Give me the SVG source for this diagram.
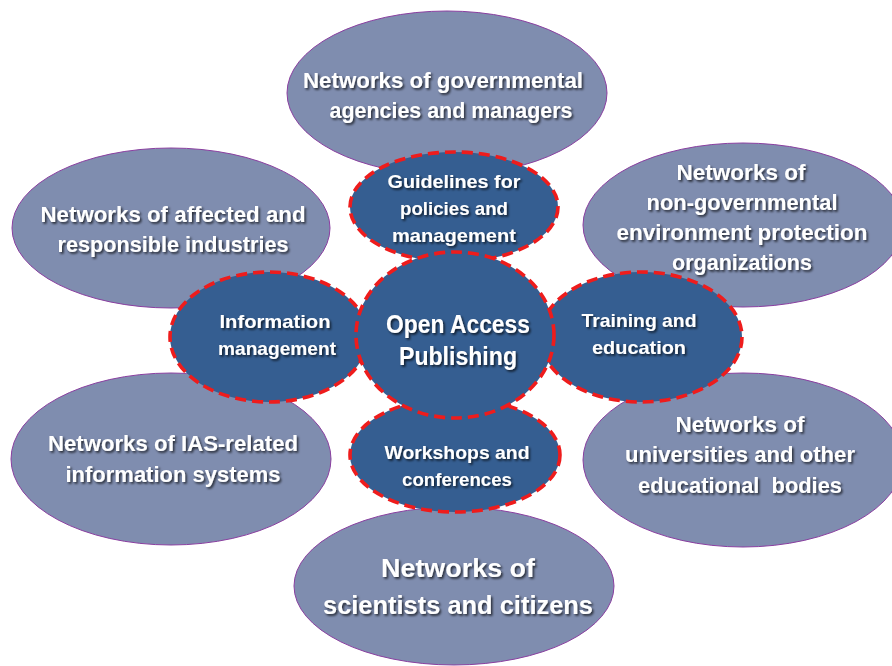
<svg xmlns="http://www.w3.org/2000/svg" width="892" height="666" viewBox="0 0 892 666">
<defs>
<filter id="sh" x="-10%" y="-30%" width="120%" height="160%">
<feDropShadow dx="1.6" dy="1.8" stdDeviation="0.9" flood-color="#000" flood-opacity="0.7"/>
</filter>
</defs>
<style>
.outer{fill:#7f8daf;stroke:#8a3fa0;stroke-width:1}
.inner{fill:#355e91;stroke:#ee1c1c;stroke-width:3.6;stroke-dasharray:11 6}
text{font-family:"Liberation Sans",Arial,sans-serif;font-weight:bold;fill:#fff;text-anchor:middle;filter:url(#sh)}
.o{font-size:22px}
.b{font-size:26px}
.i{font-size:19px}
.c{font-size:25px}
</style>
<rect width="892" height="666" fill="#fff"/>
<g id="n-gov">
<ellipse class="outer" cx="447" cy="93" rx="160" ry="82"/>
<text class="o" x="443" y="88" textLength="280" lengthAdjust="spacingAndGlyphs">Networks of governmental</text>
<text class="o" x="451" y="118" textLength="243" lengthAdjust="spacingAndGlyphs">agencies and managers</text>
</g>
<g id="n-ind">
<ellipse class="outer" cx="171" cy="228" rx="159" ry="80"/>
<text class="o" x="173" y="222" textLength="265" lengthAdjust="spacingAndGlyphs">Networks of affected and</text>
<text class="o" x="173" y="252" textLength="231" lengthAdjust="spacingAndGlyphs">responsible industries</text>
</g>
<g id="n-ngo">
<ellipse class="outer" cx="743" cy="225" rx="160" ry="82"/>
<text class="o" x="741" y="180" textLength="129" lengthAdjust="spacingAndGlyphs">Networks of</text>
<text class="o" x="742" y="210" textLength="191" lengthAdjust="spacingAndGlyphs">non-governmental</text>
<text class="o" x="742" y="240" textLength="251" lengthAdjust="spacingAndGlyphs">environment protection</text>
<text class="o" x="742" y="270" textLength="140" lengthAdjust="spacingAndGlyphs">organizations</text>
</g>
<g id="n-ias">
<ellipse class="outer" cx="171" cy="459" rx="160" ry="86"/>
<text class="o" x="173" y="451" textLength="250" lengthAdjust="spacingAndGlyphs">Networks of IAS-related</text>
<text class="o" x="173" y="482" textLength="215" lengthAdjust="spacingAndGlyphs">information systems</text>
</g>
<g id="n-uni">
<ellipse class="outer" cx="743" cy="460" rx="160" ry="87"/>
<text class="o" x="740" y="432" textLength="129" lengthAdjust="spacingAndGlyphs">Networks of</text>
<text class="o" x="740" y="462" textLength="230" lengthAdjust="spacingAndGlyphs">universities and other</text>
<text class="o" x="740" y="493" textLength="204" lengthAdjust="spacingAndGlyphs" xml:space="preserve">educational  bodies</text>
</g>
<g id="n-sci">
<ellipse class="outer" cx="454" cy="586" rx="160" ry="79"/>
<text class="b" x="458" y="577" textLength="154" lengthAdjust="spacingAndGlyphs">Networks of</text>
<text class="b" x="458" y="614" textLength="270" lengthAdjust="spacingAndGlyphs">scientists and citizens</text>
</g>
<g id="guidelines">
<ellipse class="inner" cx="454" cy="207" rx="104" ry="55"/>
<text class="i" x="454" y="188" textLength="133" lengthAdjust="spacingAndGlyphs">Guidelines for</text>
<text class="i" x="454" y="215" textLength="108" lengthAdjust="spacingAndGlyphs">policies and</text>
<text class="i" x="454" y="242" textLength="124" lengthAdjust="spacingAndGlyphs">management</text>
</g>
<g id="workshops">
<ellipse class="inner" cx="455" cy="455" rx="105" ry="57"/>
<text class="i" x="457" y="459" textLength="145" lengthAdjust="spacingAndGlyphs">Workshops and</text>
<text class="i" x="457" y="486" textLength="110" lengthAdjust="spacingAndGlyphs">conferences</text>
</g>
<g id="info">
<ellipse class="inner" cx="269" cy="337" rx="99" ry="65"/>
<text class="i" x="275" y="328" textLength="111" lengthAdjust="spacingAndGlyphs">Information</text>
<text class="i" x="277" y="355" textLength="118" lengthAdjust="spacingAndGlyphs">management</text>
</g>
<g id="training">
<ellipse class="inner" cx="641" cy="337" rx="101" ry="65"/>
<text class="i" x="639" y="327" textLength="115" lengthAdjust="spacingAndGlyphs">Training and</text>
<text class="i" x="639" y="354" textLength="94" lengthAdjust="spacingAndGlyphs">education</text>
</g>
<g id="center">
<ellipse class="inner" cx="455" cy="335" rx="99" ry="83"/>
<text class="c" x="458" y="333" textLength="144" lengthAdjust="spacingAndGlyphs">Open Access</text>
<text class="c" x="458" y="365" textLength="118" lengthAdjust="spacingAndGlyphs">Publishing</text>
</g>
<g id="connectors"></g>
</svg>
